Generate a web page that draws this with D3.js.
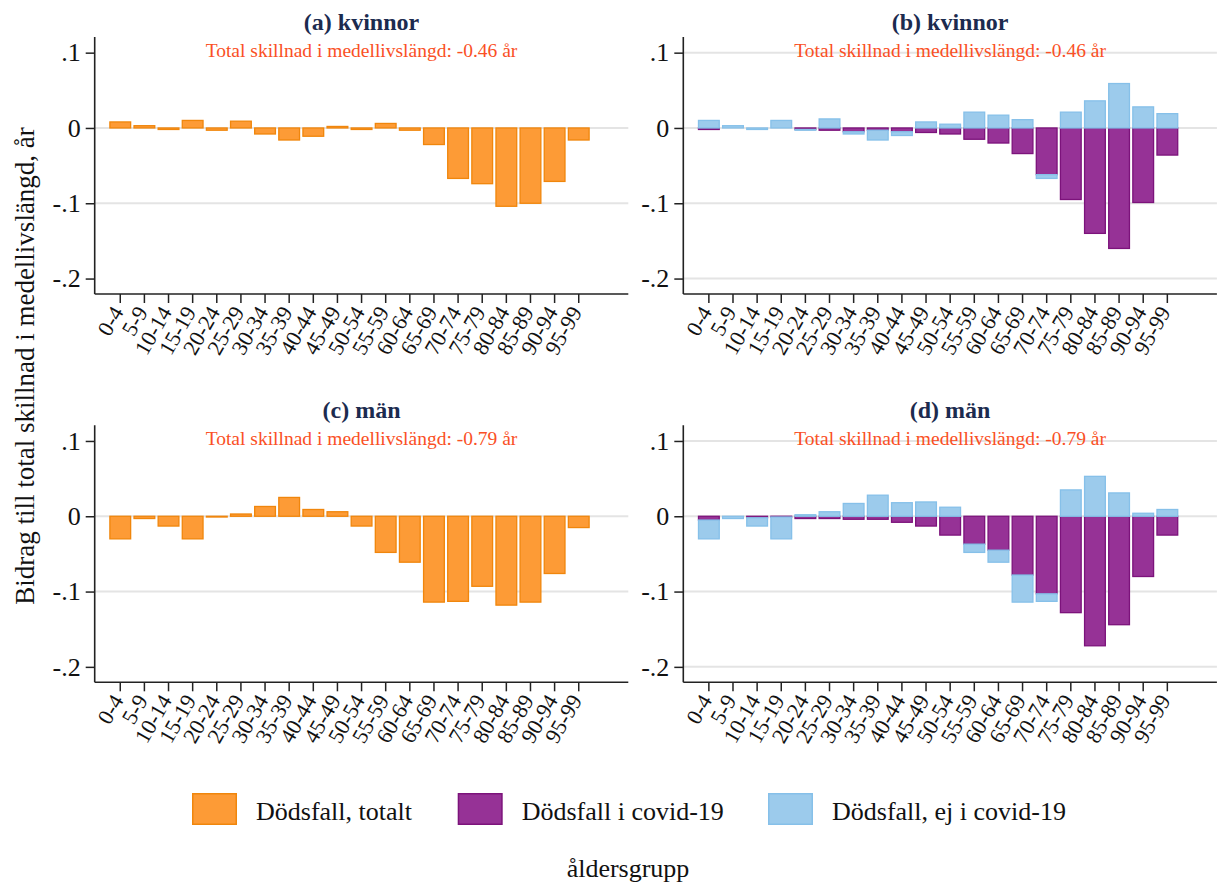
<!DOCTYPE html>
<html>
<head>
<meta charset="utf-8">
<script src="https://cdn.jsdelivr.net/npm/d3@7"></script>
<style>
  body { margin: 0; background: #fff; }
  svg, svg text { font-family: "Liberation Serif", "Times New Roman", serif; }
</style>
</head>
<body>
<div id="chart"></div>
<script>
// age groups on the x axis
const ageGroups = ['0-4', '5-9', '10-14', '15-19', '20-24', '25-29', '30-34', '35-39', '40-44', '45-49',
  '50-54', '55-59', '60-64', '65-69', '70-74', '75-79', '80-84', '85-89', '90-94', '95-99'];

// women
const womenTotal = [0.008, 0.003, -0.002, 0.010, -0.003, 0.009, -0.008, -0.016, -0.011, 0.002,
  -0.002, 0.006, -0.003, -0.022, -0.067, -0.074, -0.104, -0.100, -0.071, -0.016];
const womenCovid = [-0.002, 0, 0, 0, -0.002, -0.003, -0.005, -0.003, -0.005, -0.006,
  -0.008, -0.015, -0.020, -0.034, -0.062, -0.095, -0.140, -0.160, -0.099, -0.036];
const womenOther = [0.010, 0.003, -0.002, 0.010, -0.001, 0.012, -0.003, -0.013, -0.005, 0.008,
  0.005, 0.021, 0.017, 0.011, -0.005, 0.021, 0.036, 0.059, 0.028, 0.019];

// men
const menTotal = [-0.030, -0.003, -0.013, -0.030, -0.001, 0.003, 0.013, 0.025, 0.009, 0.006,
  -0.013, -0.048, -0.061, -0.114, -0.113, -0.093, -0.118, -0.114, -0.076, -0.015];
const menCovid = [-0.005, 0, -0.002, -0.001, -0.003, -0.003, -0.004, -0.004, -0.008, -0.013,
  -0.025, -0.037, -0.045, -0.078, -0.103, -0.128, -0.172, -0.144, -0.080, -0.025];
const menOther = [-0.025, -0.003, -0.011, -0.029, 0.002, 0.006, 0.017, 0.028, 0.018, 0.019,
  0.012, -0.011, -0.016, -0.036, -0.010, 0.035, 0.053, 0.031, 0.004, 0.009];

const yTicks = [0.1, 0, -0.1, -0.2];
const yTickLabels = ['.1', '0', '-.1', '-.2'];
const panelTitles = ['(a) kvinnor', '(b) kvinnor', '(c) män', '(d) män'];
const totalDiffs = ['-0.46', '-0.46', '-0.79', '-0.79'];
const legendLabels = ['Dödsfall, totalt', 'Dödsfall i covid-19', 'Dödsfall, ej i covid-19'];

const serif = '"Liberation Serif", "Times New Roman", serif';

const colors = {
  total: { fill: '#fd9b36', stroke: '#f0860c' },
  covid: { fill: '#963296', stroke: '#7c137b' },
  other: { fill: '#9ccbec', stroke: '#86c0e9' }
};

class DecompChart {
  constructor(_config) {
    this.config = {
      svg: _config.svg,
      left: _config.left,
      top: _config.top,
      width: 533.6,
      height: 257,
      title: _config.title,
      total: _config.total,
      grid: _config.grid
    };
    this.series = _config.series;
    this.initVis();
  }

  initVis() {
    const vis = this;
    const cfg = vis.config;

    vis.g = cfg.svg.append('g')
      .attr('transform', `translate(${cfg.left},${cfg.top})`);

    vis.xScale = d3.scaleBand()
      .domain(ageGroups)
      .range([13.5, 496.1])
      .paddingInner(0.14)
      .paddingOuter(0.07);

    vis.yScale = d3.scaleLinear()
      .domain([-0.2205, 0.1208])
      .range([cfg.height, 0]);

    // grid lines
    vis.g.selectAll('.grid-line')
      .data(cfg.grid)
      .join('line')
      .attr('class', 'grid-line')
      .attr('x1', 0)
      .attr('x2', cfg.width)
      .attr('y1', d => vis.yScale(d))
      .attr('y2', d => vis.yScale(d))
      .attr('stroke', '#e4e4e4')
      .attr('stroke-width', 2);

    vis.barArea = vis.g.append('g');

    vis.g.append('text')
      .attr('x', cfg.width / 2)
      .attr('y', -7)
      .attr('text-anchor', 'middle')
      .style('font-family', serif)
      .attr('font-size', 24)
      .attr('font-weight', 'bold')
      .attr('fill', '#1c2b4f')
      .text(cfg.title);

    vis.g.append('text')
      .attr('x', cfg.width / 2)
      .attr('y', 19.5)
      .attr('text-anchor', 'middle')
      .style('font-family', serif)
      .attr('font-size', 19.5)
      .attr('fill', '#fa5025')
      .text(`Total skillnad i medellivslängd: ${cfg.total} år`);

    vis.renderVis();
  }

  renderVis() {
    const vis = this;
    const cfg = vis.config;

    const rows = ageGroups.map((a, i) => {
      const r = { age: a };
      vis.series.forEach(s => { r[s.key] = s.values[i]; });
      return r;
    });

    // negative and positive parts stack away from zero
    const stacked = d3.stack()
      .keys(vis.series.map(s => s.key))
      .offset(d3.stackOffsetDiverging)(rows);

    vis.barArea.selectAll('.layer')
      .data(stacked)
      .join('g')
      .attr('class', 'layer')
      .attr('fill', d => colors[d.key].fill)
      .attr('stroke', d => colors[d.key].stroke)
      .selectAll('rect')
      .data(d => d)
      .join('rect')
      .attr('x', d => vis.xScale(d.data.age))
      .attr('y', d => vis.yScale(Math.max(d[0], d[1])))
      .attr('width', vis.xScale.bandwidth())
      .attr('height', d => Math.abs(vis.yScale(d[0]) - vis.yScale(d[1])))
      .attr('stroke-width', 1.3);

    // y axis
    const yAxis = vis.g.append('g')
      .call(d3.axisLeft(vis.yScale)
        .tickValues(yTicks)
        .tickFormat((d, i) => yTickLabels[i])
        .tickSize(9)
        .tickPadding(5));
    yAxis.attr('font-family', null);
    yAxis.select('.domain').remove();
    yAxis.selectAll('.tick line').attr('stroke', '#222').attr('stroke-width', 1.5);
    yAxis.selectAll('.tick text')
      .style('font-family', serif)
      .attr('font-size', 26)
      .attr('fill', '#111');

    // x axis
    const xAxis = vis.g.append('g')
      .attr('transform', `translate(0,${cfg.height})`)
      .call(d3.axisBottom(vis.xScale).tickSize(9).tickSizeOuter(0));
    xAxis.attr('font-family', null);
    xAxis.select('.domain').remove();
    xAxis.selectAll('.tick line').attr('stroke', '#222').attr('stroke-width', 1.5);
    xAxis.selectAll('.tick text')
      .style('font-family', serif)
      .attr('font-size', 22)
      .attr('fill', '#111')
      .attr('x', 0)
      .attr('y', 0)
      .attr('dy', 0)
      .attr('transform', 'translate(4,18) rotate(-60)')
      .style('text-anchor', 'end');

    // axis lines
    vis.g.append('line')
      .attr('x1', 0).attr('x2', 0)
      .attr('y1', 0).attr('y2', cfg.height)
      .attr('stroke', '#222').attr('stroke-width', 1.6);
    vis.g.append('line')
      .attr('x1', 0).attr('x2', cfg.width)
      .attr('y1', cfg.height).attr('y2', cfg.height)
      .attr('stroke', '#222').attr('stroke-width', 1.6);
  }
}

const svg = d3.select('#chart').append('svg')
  .attr('width', 1224)
  .attr('height', 884);

new DecompChart({ svg, left: 94.7, top: 37, title: panelTitles[0], total: totalDiffs[0], grid: [0, -0.1],
  series: [{ key: 'total', values: womenTotal }] });
new DecompChart({ svg, left: 683.3, top: 37, title: panelTitles[1], total: totalDiffs[1], grid: yTicks,
  series: [{ key: 'covid', values: womenCovid }, { key: 'other', values: womenOther }] });
new DecompChart({ svg, left: 94.7, top: 425.3, title: panelTitles[2], total: totalDiffs[2], grid: [0, -0.1],
  series: [{ key: 'total', values: menTotal }] });
new DecompChart({ svg, left: 683.3, top: 425.3, title: panelTitles[3], total: totalDiffs[3], grid: yTicks,
  series: [{ key: 'covid', values: menCovid }, { key: 'other', values: menOther }] });

// shared y label
svg.append('text')
  .attr('transform', 'translate(33.5,366) rotate(-90)')
  .attr('text-anchor', 'middle')
  .style('font-family', serif)
  .attr('font-size', 27)
  .attr('fill', '#111')
  .text('Bidrag till total skillnad i medellivslängd, år');

// legend
const legendX = [192, 457.7, 768];
const legendKeys = ['total', 'covid', 'other'];
const legend = svg.append('g');
legendKeys.forEach((k, i) => {
  legend.append('rect')
    .attr('x', legendX[i] + 0.75)
    .attr('y', 793.75)
    .attr('width', 43.5)
    .attr('height', 30.5)
    .attr('fill', colors[k].fill)
    .attr('stroke', colors[k].stroke)
    .attr('stroke-width', 1.5);
  legend.append('text')
    .attr('x', legendX[i] + 64)
    .attr('y', 820)
    .style('font-family', serif)
    .attr('font-size', 26)
    .attr('fill', '#111')
    .text(legendLabels[i]);
});

svg.append('text')
  .attr('x', 628)
  .attr('y', 877)
  .attr('text-anchor', 'middle')
  .style('font-family', serif)
  .attr('font-size', 26)
  .attr('fill', '#111')
  .text('åldersgrupp');
</script>
</body>
</html>
